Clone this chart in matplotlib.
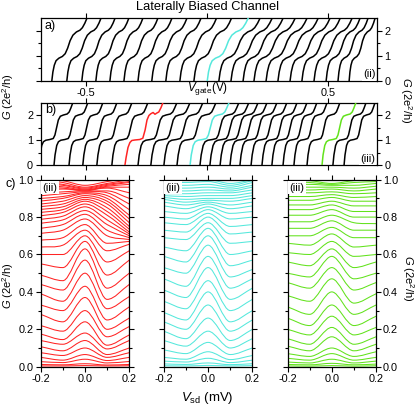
import numpy as np
import matplotlib
matplotlib.use('Agg')
import matplotlib.pyplot as plt
from matplotlib.path import Path
from matplotlib.patches import PathPatch
from matplotlib.ticker import MultipleLocator, FixedLocator

plt.rcParams['font.family'] = ['Liberation Sans', 'DejaVu Sans']
plt.rcParams['mathtext.fontset'] = 'custom'
plt.rcParams['mathtext.rm'] = 'Liberation Sans'
plt.rcParams['mathtext.it'] = 'Liberation Sans:italic'

# ---------------- data ----------------
# panel a: gate sweeps (start = V at G=0, end = V at G=2.5)
a_start = [-0.642, -0.580, -0.518, -0.460, -0.402, -0.344, -0.286, -0.229, -0.171, -0.113,
           -0.055, 0.000, 0.048, 0.098, 0.148, 0.193, 0.243, 0.292, 0.342, 0.391,
           0.441, 0.491, 0.540, 0.586]
a_end = [-0.497, -0.439, -0.381, -0.324, -0.266, -0.204, -0.146, -0.084, -0.026, 0.038,
         0.100, 0.169, 0.218, 0.268, 0.313, 0.363, 0.412, 0.458, 0.507, 0.549,
         0.598, 0.631, 0.664, 0.693]
a_highlight = {11: 'cyan'}
# normalised step profile of panel a traces
a_prof_t = [0, 0.03, 0.07, 0.12, 0.2, 0.3, 0.38, 0.45, 0.52, 0.6, 0.7, 0.8, 0.87, 0.94, 1.0]
a_prof_g = [0, 0.35, 0.62, 0.8, 0.9, 0.97, 1.08, 1.3, 1.6, 1.82, 1.95, 2.02, 2.12, 2.3, 2.5]

# panel b
b_start = [-0.695, -0.633, -0.571, -0.514, -0.456, -0.394, -0.340, -0.286, -0.233, -0.179,
           -0.125, -0.071, -0.030, 0.011, 0.053, 0.094, 0.135, 0.181, 0.226, 0.267,
           0.313, 0.358, 0.412, 0.474, 0.519, 0.565]
b_end = [-0.555, -0.493, -0.431, -0.373, -0.311, -0.245, -0.183, -0.125, -0.071, -0.018,
         0.036, 0.090, 0.131, 0.172, 0.210, 0.247, 0.288, 0.329, 0.371, 0.412,
         0.453, 0.495, 0.548, 0.614, 0.656, 0.693]
b_highlight = {6: 'red', 11: 'cyan', 23: 'green'}
b_prof_t = [0, 0.03, 0.08, 0.13, 0.2, 0.32, 0.42, 0.47, 0.52, 0.57, 0.63, 0.72, 0.83, 0.89, 0.94, 1.0]
b_prof_g = [0, 0.4, 0.78, 0.93, 0.99, 1.02, 1.06, 1.2, 1.5, 1.8, 1.95, 2.0, 2.04, 2.12, 2.28, 2.5]
# profile of the red trace in b (wiggly second plateau)
red_prof_t = [0, 0.03, 0.08, 0.13, 0.18, 0.26, 0.39, 0.47, 0.53, 0.58, 0.63, 0.68, 0.74, 0.79, 0.84, 0.89, 0.95, 1.0]
red_prof_g = [0, 0.3, 0.7, 0.9, 0.98, 1.0, 1.02, 1.07, 1.4, 1.8, 1.98, 2.05, 2.1, 2.03, 2.08, 2.12, 2.3, 2.5]

# panel c: G at Vsd = -0.2, -0.1, 0, 0.1, 0.2 mV
vsd = [-0.2, -0.1, 0.0, 0.1, 0.2]
red_rows = [
    [0.004, 0.004, 0.006, 0.004, 0.005],
    [0.012, 0.010, 0.016, 0.009, 0.012],
    [0.027, 0.022, 0.040, 0.020, 0.028],
    [0.050, 0.035, 0.065, 0.033, 0.050],
    [0.075, 0.060, 0.100, 0.050, 0.075],
    [0.107, 0.085, 0.140, 0.065, 0.100],
    [0.140, 0.120, 0.180, 0.095, 0.140],
    [0.175, 0.145, 0.240, 0.115, 0.170],
    [0.220, 0.190, 0.300, 0.160, 0.215],
    [0.280, 0.240, 0.370, 0.200, 0.260],
    [0.330, 0.300, 0.430, 0.250, 0.320],
    [0.390, 0.350, 0.500, 0.310, 0.375],
    [0.440, 0.410, 0.570, 0.360, 0.440],
    [0.490, 0.460, 0.630, 0.420, 0.500],
    [0.550, 0.530, 0.670, 0.490, 0.570],
    [0.600, 0.600, 0.700, 0.560, 0.620],
    [0.640, 0.650, 0.730, 0.620, 0.655],
    [0.677, 0.690, 0.760, 0.660, 0.670],
    [0.713, 0.730, 0.790, 0.700, 0.680],
    [0.740, 0.760, 0.815, 0.730, 0.690],
    [0.767, 0.785, 0.835, 0.760, 0.700],
    [0.788, 0.805, 0.855, 0.785, 0.710],
    [0.807, 0.825, 0.870, 0.810, 0.720],
    [0.825, 0.840, 0.885, 0.830, 0.735],
    [0.841, 0.855, 0.895, 0.850, 0.750],
    [0.856, 0.870, 0.905, 0.870, 0.770],
    [0.870, 0.885, 0.915, 0.885, 0.790],
    [0.886, 0.900, 0.925, 0.900, 0.810],
    [0.900, 0.910, 0.930, 0.915, 0.840],
    [0.914, 0.925, 0.935, 0.930, 0.870],
    [0.927, 0.935, 0.940, 0.940, 0.900],
    [0.945, 0.950, 0.945, 0.955, 0.930],
    [0.960, 0.955, 0.940, 0.960, 0.960],
    [0.970, 0.962, 0.945, 0.965, 0.975],
    [0.980, 0.970, 0.950, 0.970, 0.985],
    [0.990, 0.975, 0.955, 0.975, 0.990],
    [1.000, 0.985, 0.960, 0.980, 1.000],
    [1.010, 0.995, 0.970, 0.990, 1.010],
]
cyan_rows = [
    [0.005, 0.004, 0.007, 0.004, 0.006],
    [0.015, 0.012, 0.020, 0.011, 0.016],
    [0.030, 0.025, 0.045, 0.022, 0.035],
    [0.050, 0.040, 0.080, 0.038, 0.060],
    [0.090, 0.070, 0.130, 0.065, 0.100],
    [0.140, 0.110, 0.190, 0.100, 0.150],
    [0.190, 0.150, 0.260, 0.140, 0.200],
    [0.240, 0.200, 0.330, 0.190, 0.250],
    [0.290, 0.250, 0.400, 0.240, 0.300],
    [0.350, 0.310, 0.460, 0.300, 0.360],
    [0.410, 0.370, 0.530, 0.360, 0.420],
    [0.470, 0.430, 0.590, 0.420, 0.470],
    [0.530, 0.500, 0.650, 0.480, 0.520],
    [0.590, 0.560, 0.700, 0.540, 0.570],
    [0.640, 0.620, 0.740, 0.600, 0.620],
    [0.690, 0.680, 0.770, 0.660, 0.670],
    [0.730, 0.720, 0.800, 0.710, 0.720],
    [0.770, 0.760, 0.820, 0.750, 0.760],
    [0.800, 0.790, 0.840, 0.790, 0.800],
    [0.830, 0.820, 0.855, 0.820, 0.830],
    [0.860, 0.845, 0.870, 0.845, 0.860],
    [0.880, 0.865, 0.880, 0.865, 0.880],
    [0.895, 0.880, 0.890, 0.885, 0.900],
    [0.905, 0.895, 0.900, 0.900, 0.915],
    [0.915, 0.910, 0.915, 0.915, 0.930],
    [0.925, 0.925, 0.930, 0.930, 0.945],
    [0.940, 0.940, 0.945, 0.940, 0.960],
    [0.955, 0.955, 0.960, 0.950, 0.970],
    [0.970, 0.970, 0.975, 0.960, 0.985],
    [0.985, 0.985, 0.990, 0.970, 0.995],
    [1.000, 1.000, 1.000, 0.980, 1.000],
]
green_rows = [
    [0.004, 0.003, 0.006, 0.003, 0.005],
    [0.012, 0.010, 0.018, 0.010, 0.014],
    [0.025, 0.020, 0.040, 0.020, 0.030],
    [0.045, 0.035, 0.070, 0.035, 0.050],
    [0.070, 0.055, 0.100, 0.055, 0.080],
    [0.110, 0.085, 0.160, 0.085, 0.120],
    [0.150, 0.120, 0.210, 0.120, 0.160],
    [0.200, 0.170, 0.270, 0.170, 0.210],
    [0.260, 0.220, 0.330, 0.220, 0.270],
    [0.320, 0.280, 0.400, 0.280, 0.330],
    [0.380, 0.350, 0.470, 0.340, 0.390],
    [0.450, 0.420, 0.530, 0.410, 0.450],
    [0.500, 0.480, 0.590, 0.470, 0.500],
    [0.560, 0.540, 0.630, 0.530, 0.560],
    [0.610, 0.600, 0.670, 0.590, 0.600],
    [0.660, 0.650, 0.710, 0.640, 0.650],
    [0.700, 0.700, 0.745, 0.690, 0.690],
    [0.740, 0.740, 0.780, 0.730, 0.730],
    [0.775, 0.775, 0.810, 0.770, 0.765],
    [0.810, 0.810, 0.840, 0.800, 0.800],
    [0.840, 0.840, 0.865, 0.830, 0.830],
    [0.865, 0.865, 0.885, 0.860, 0.860],
    [0.890, 0.890, 0.905, 0.885, 0.885],
    [0.910, 0.910, 0.920, 0.905, 0.910],
    [0.930, 0.930, 0.935, 0.925, 0.930],
    [0.945, 0.945, 0.950, 0.940, 0.950],
    [0.960, 0.960, 0.960, 0.955, 0.965],
    [0.975, 0.975, 0.970, 0.970, 0.980],
    [0.990, 0.985, 0.975, 0.985, 0.990],
    [1.000, 0.995, 0.980, 0.995, 1.000],
]

colors = {'red': '#ff2424', 'cyan': '#55e8dc', 'green': '#62e21c'}

# ---------------- figure ----------------
W, H = 416, 409
fig = plt.figure(figsize=(W / 100, H / 100), dpi=100)


def rect(x0, y0, x1, y1):
    return [x0 / W, 1 - y1 / H, (x1 - x0) / W, (y1 - y0) / H]


def smooth_path(xs, ys):
    xs = np.asarray(xs, float)
    ys = np.asarray(ys, float)
    n = len(xs)
    m = np.zeros(n)
    for i in range(n):
        if i == 0:
            m[i] = (ys[1] - ys[0]) / (xs[1] - xs[0])
        elif i == n - 1:
            m[i] = (ys[-1] - ys[-2]) / (xs[-1] - xs[-2])
        else:
            d1 = ys[i] - ys[i - 1]
            d2 = ys[i + 1] - ys[i]
            m[i] = 0 if d1 * d2 <= 0 else (ys[i + 1] - ys[i - 1]) / (xs[i + 1] - xs[i - 1])
    verts = [(xs[0], ys[0])]
    codes = [Path.MOVETO]
    for i in range(n - 1):
        h = xs[i + 1] - xs[i]
        verts += [(xs[i] + h / 3, ys[i] + m[i] * h / 3),
                  (xs[i + 1] - h / 3, ys[i + 1] - m[i + 1] * h / 3),
                  (xs[i + 1], ys[i + 1])]
        codes += [Path.CURVE4] * 3
    return Path(verts, codes)


TICK_FS = 7.8


def style_gate_axis(ax, left_labels, panel_tag, letter):
    ax.set_xlim(-0.688, 0.701)
    ax.set_ylim(0, 2.5)
    ax.xaxis.set_major_locator(FixedLocator([-0.5, 0, 0.5]))
    ax.yaxis.set_major_locator(FixedLocator([0, 1, 2]))
    ax.yaxis.set_minor_locator(FixedLocator([0.5, 1.5]))
    ax.tick_params(which='both', direction='out', top=True, right=True,
                   labelsize=TICK_FS, width=0.8, pad=2)
    ax.tick_params(which='major', length=3.5)
    ax.tick_params(which='minor', length=2)
    ax.tick_params(labelleft=left_labels, labelright=True)
    ax.text(0.012, 0.88, letter, transform=ax.transAxes, fontsize=9, va='center', ha='left')
    ax.text(0.995, 0.1, panel_tag, transform=ax.transAxes, fontsize=8, va='center', ha='right',
            bbox=dict(facecolor='white', edgecolor='none', pad=0.8))
    for s in ax.spines.values():
        s.set_linewidth(0.9)


# panel a
ax_a = fig.add_axes(rect(40.7, 18.2, 377, 80.7))
for i, (s, e) in enumerate(zip(a_start, a_end)):
    x = s + np.array(a_prof_t) * (e - s)
    c = colors[a_highlight[i]] if i in a_highlight else 'black'
    ax_a.plot(x, a_prof_g, color=c, lw=1.1, zorder=3 if i in a_highlight else 2)
style_gate_axis(ax_a, False, '(ii)', 'a)')
ax_a.set_xticklabels(['-0.5', '', '0.5'])

# panel b
ax_b = fig.add_axes(rect(40.7, 102.5, 377, 165))
for i, (s, e) in enumerate(zip(b_start, b_end)):
    if i in b_highlight and b_highlight[i] == 'red':
        tt, gg = red_prof_t, red_prof_g
    else:
        tt, gg = b_prof_t, b_prof_g
    x = s + np.array(tt) * (e - s)
    c = colors[b_highlight[i]] if i in b_highlight else 'black'
    ax_b.plot(x, gg, color=c, lw=1.1, zorder=3 if i in b_highlight else 2)
style_gate_axis(ax_b, True, '(iii)', 'b)')
ax_b.tick_params(labelbottom=False)

# panel c
c_rects = [rect(40.7, 179.7, 129.3, 366.7), rect(163.8, 179.7, 252.4, 366.7),
           rect(287.5, 179.7, 376.1, 366.7)]
c_sets = [(red_rows, colors['red']), (cyan_rows, colors['cyan']), (green_rows, colors['green'])]
for k, (r, (rows, col)) in enumerate(zip(c_rects, c_sets)):
    ax = fig.add_axes(r)
    for row in rows:
        p = smooth_path(vsd, row)
        ax.add_patch(PathPatch(p, fill=False, edgecolor=col, lw=0.75))
    ax.set_xlim(-0.2, 0.2)
    ax.set_ylim(0, 1.0)
    ax.xaxis.set_major_locator(FixedLocator([-0.2, 0.0, 0.2]))
    ax.xaxis.set_minor_locator(FixedLocator([-0.1, 0.1]))
    ax.yaxis.set_major_locator(MultipleLocator(0.2))
    ax.yaxis.set_minor_locator(MultipleLocator(0.1))
    ax.set_xticklabels(['-0.2', '0.0', '0.2'])
    ax.yaxis.set_major_formatter(matplotlib.ticker.FormatStrFormatter('%.1f'))
    ax.tick_params(which='both', direction='out', top=True, right=True,
                   labelsize=TICK_FS, width=0.8, pad=1.5)
    ax.tick_params(which='major', length=3.5)
    ax.tick_params(which='minor', length=2)
    ax.tick_params(labelleft=(k == 0), labelright=(k == 2))
    for s in ax.spines.values():
        s.set_linewidth(0.9)
    ax.text(0.02, 0.985, '(iii)', transform=ax.transAxes, fontsize=8, va='top', ha='left',
            zorder=5, bbox=dict(facecolor='white', edgecolor='none', pad=1.2))

# texts
def ftext(px, py, s, **kw):
    fig.text(px / W, 1 - py / H, s, **kw)

ftext(207.5, 7, 'Laterally Biased Channel', fontsize=9.3, ha='center', va='center')
ftext(208, 89, r'$V_{\rm gate}$(V)', fontsize=8.5, ha='center', va='center')
ftext(207, 398, r'$V_{\rm sd}$ (mV)', fontsize=9.5, ha='center', va='center')
ftext(8.5, 97, r'$G$ (2e$^2$/h)', fontsize=8, ha='center', va='center', rotation=90)
ftext(406, 100, r'$G$ (2e$^2$/h)', fontsize=8, ha='center', va='center', rotation=270)
ftext(8.5, 286, r'$G$ (2e$^2$/h)', fontsize=8, ha='center', va='center', rotation=90)
ftext(407.5, 278, r'$G$ (2e$^2$/h)', fontsize=8, ha='center', va='center', rotation=270)
ftext(6, 184, 'c)', fontsize=9, ha='left', va='center')

fig.savefig('out.png', dpi=100)
